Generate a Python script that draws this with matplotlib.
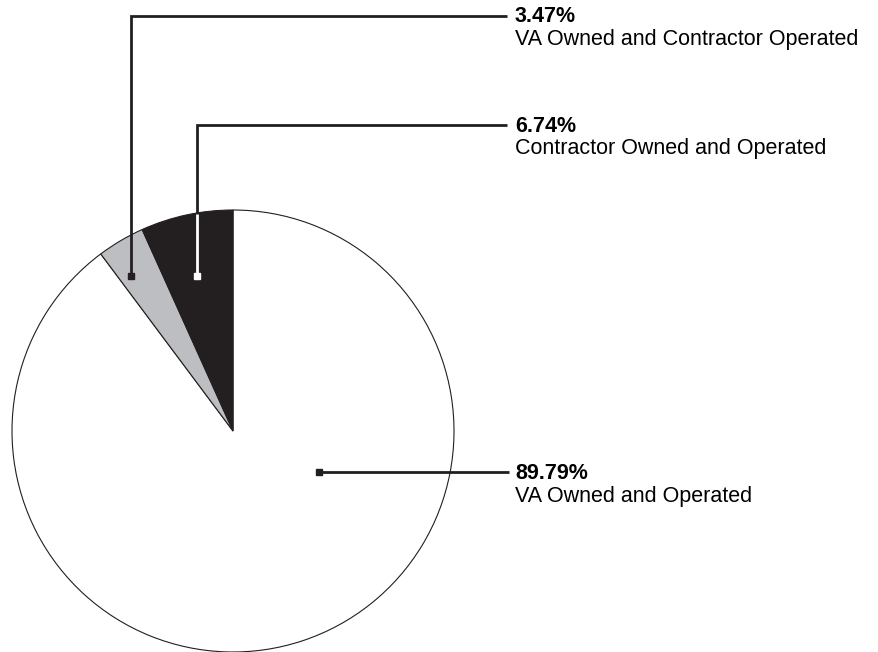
import numpy as np
import matplotlib
matplotlib.use("Agg")
import matplotlib.pyplot as plt

# data (clockwise from 12 o'clock)
labels = ["VA Owned and Operated",
          "VA Owned and Contractor Operated",
          "Contractor Owned and Operated"]
shares = [89.79, 3.47, 6.74]
colors = ["#ffffff", "#bdbec2", "#231f20"]

W, H = 879, 652
fig = plt.figure(figsize=(W / 100, H / 100), dpi=100)
ax = fig.add_axes([0, 0, 1, 1])

cx, cy, R = 233, 221, 221
wedges, _ = ax.pie(shares, colors=colors, startangle=90, counterclock=False,
                   center=(cx, cy), radius=R,
                   wedgeprops=dict(edgecolor="#231f20", linewidth=0.8))
ax.set_xlim(0, W)
ax.set_ylim(0, H)
ax.set_aspect("equal")
ax.axis("off")

plt.rcParams["font.family"] = ["Liberation Sans", "DejaVu Sans"]
dark = "#231f20"

# anchor inside each wedge: (angle deg, fraction of radius), leader run y
anchors = [(-25.8, 0.43), (123.3, 0.84), (103.0, 0.72)]
label_y = [180, 636, 527]
line_end = [509, 507, 507]
text_x = 515
fs = 15.5

for i, (ang, fr) in enumerate(anchors):
    px = cx + fr * R * np.cos(np.radians(ang))
    py = cy + fr * R * np.sin(np.radians(ang))
    ty = label_y[i]
    mcol = dark
    if i == 0:
        ax.plot([px, line_end[i]], [py, py], color=dark, lw=2, solid_capstyle="butt")
        ty = py
    else:
        ax.plot([px, px, line_end[i]], [py, ty, ty], color=dark, lw=2,
                solid_joinstyle="miter", solid_capstyle="butt")
        if colors[i] == dark:
            # white part of the leader inside the dark wedge
            edge_y = cy + np.sqrt(R ** 2 - (px - cx) ** 2)
            ax.plot([px, px], [py, edge_y - 1], color="white", lw=2,
                    solid_capstyle="butt")
            mcol = "white"
    ax.plot(px, py, marker="s", ms=5, color=mcol, mec=mcol)
    ax.text(text_x, ty - 1, f"{shares[i]:.2f}%", fontsize=fs, fontweight="bold",
            color="black", va="center", ha="left")
    ax.text(text_x, ty - 24, labels[i], fontsize=fs, color="black",
            va="center", ha="left")

fig.savefig("out.png", dpi=100)
